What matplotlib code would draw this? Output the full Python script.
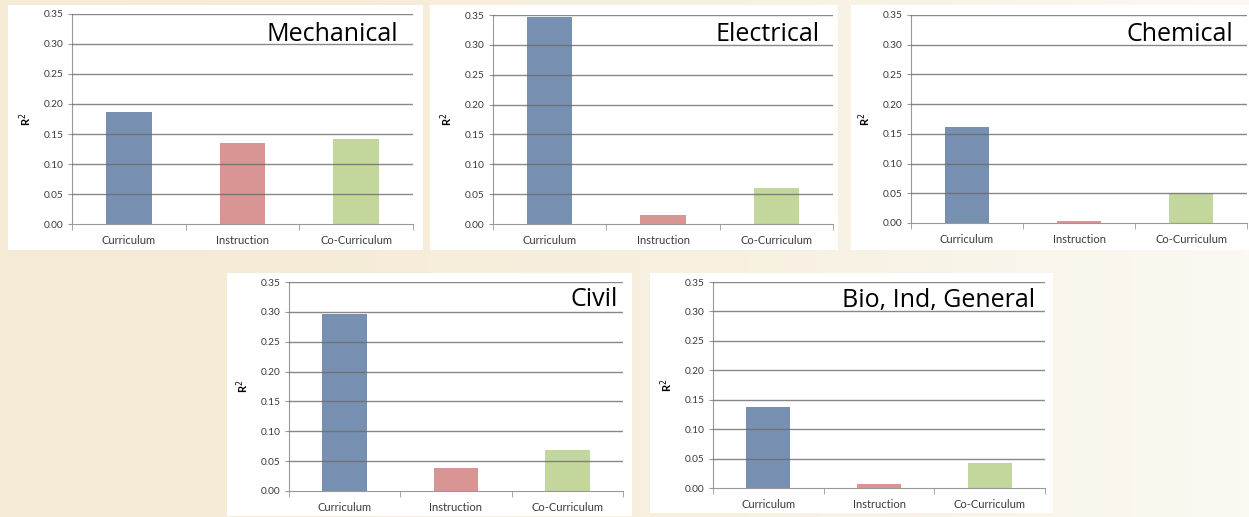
import numpy as np
import matplotlib
matplotlib.use("Agg")
import matplotlib.pyplot as plt
from matplotlib.patches import Rectangle

plt.rcParams['font.family'] = ['Lato', 'DejaVu Sans']

categories = ["Curriculum", "Instruction", "Co-Curriculum"]
panel_titles = ["Mechanical", "Electrical", "Chemical", "Civil", "Bio, Ind, General"]
mechanical = [0.187, 0.135, 0.141]
electrical = [0.347, 0.015, 0.061]
chemical = [0.161, 0.004, 0.051]
civil = [0.297, 0.038, 0.069]
bio_ind_general = [0.137, 0.006, 0.043]
panel_values = [mechanical, electrical, chemical, civil, bio_ind_general]
y_ticks = [0.0, 0.05, 0.10, 0.15, 0.20, 0.25, 0.30, 0.35]

bar_colors = ["#7790b1", "#d99594", "#c3d69b"]

W, H = 1249, 517
# layout in pixels: white card (x0, y0, x1, y1), axes (left, top, right, bottom), title (x_right, baseline)
cards = [(8, 5, 423, 250), (430, 5, 838, 250), (851, 5, 1249, 250),
         (227, 273, 632, 516), (650, 273, 1053, 513)]
axes_px = [(72, 14, 413, 224), (493, 15, 833, 224), (911, 15, 1247, 223),
           (289, 282, 623, 491), (713, 282, 1045, 488)]
title_px = [(398, 41), (820, 41), (1233, 41), (618, 306), (1035, 307)]

fig = plt.figure(figsize=(W / 100, H / 100), dpi=100)

# beige gradient background
bg = fig.add_axes([0, 0, 1, 1], zorder=-10)
left_c = np.array([245, 234, 212]) / 255
right_c = np.array([251, 249, 242]) / 255
t = np.linspace(0, 1, 300) ** 1.5
grad = left_c[None, :] * (1 - t[:, None]) + right_c[None, :] * t[:, None]
bg.imshow(grad[None, :, :], aspect='auto', extent=[0, 1, 0, 1])
bg.axis('off')


def fx(px):
    return px / W


def fy(py):
    return 1 - py / H


for i, vals in enumerate(panel_values):
    x0, y0, x1, y1 = cards[i]
    fig.patches.append(Rectangle((fx(x0), fy(y1)), fx(x1 - x0), (y1 - y0) / H,
                                 transform=fig.transFigure, facecolor='white',
                                 edgecolor='none', zorder=-5))
    l, tp, r, b = axes_px[i]
    ax = fig.add_axes([fx(l), fy(b), fx(r - l), (b - tp) / H])
    ax.set_facecolor('none')
    x = np.arange(len(categories))
    ax.bar(x, vals, width=0.4, color=bar_colors, zorder=2)
    ax.set_xlim(-0.5, 2.5)
    ax.set_ylim(0, 0.35)
    ax.set_yticks(y_ticks)
    ax.set_yticklabels([f"{v:.2f}" for v in y_ticks], fontsize=7.3, color='#3a3a3a')
    ax.set_xticks(x)
    ax.set_xticklabels(categories, fontsize=8, color='#3a3a3a')
    ax.tick_params(axis='x', length=0, pad=8)
    ax.tick_params(axis='y', length=3, color='#999999', pad=3)
    # minor ticks between categories
    ax.set_xticks([-0.5, 0.5, 1.5, 2.5], minor=True)
    ax.tick_params(axis='x', which='minor', length=4, color='#999999')
    for yv in y_ticks[1:]:
        ax.axhline(yv, color='#6a6a6a', linewidth=1.0, alpha=0.8, zorder=3)
    for side in ['top', 'right']:
        ax.spines[side].set_visible(False)
    ax.spines['left'].set_color('#999999')
    ax.spines['bottom'].set_color('#999999')
    ax.set_ylabel("R$^2$", fontsize=8, fontweight='bold', labelpad=7)
    tx, ty = title_px[i]
    fig.text(fx(tx), fy(ty), panel_titles[i], ha='right', va='baseline',
             fontsize=18, color='black', family=['Open Sans', 'DejaVu Sans'])

fig.savefig("out.png", dpi=100)
